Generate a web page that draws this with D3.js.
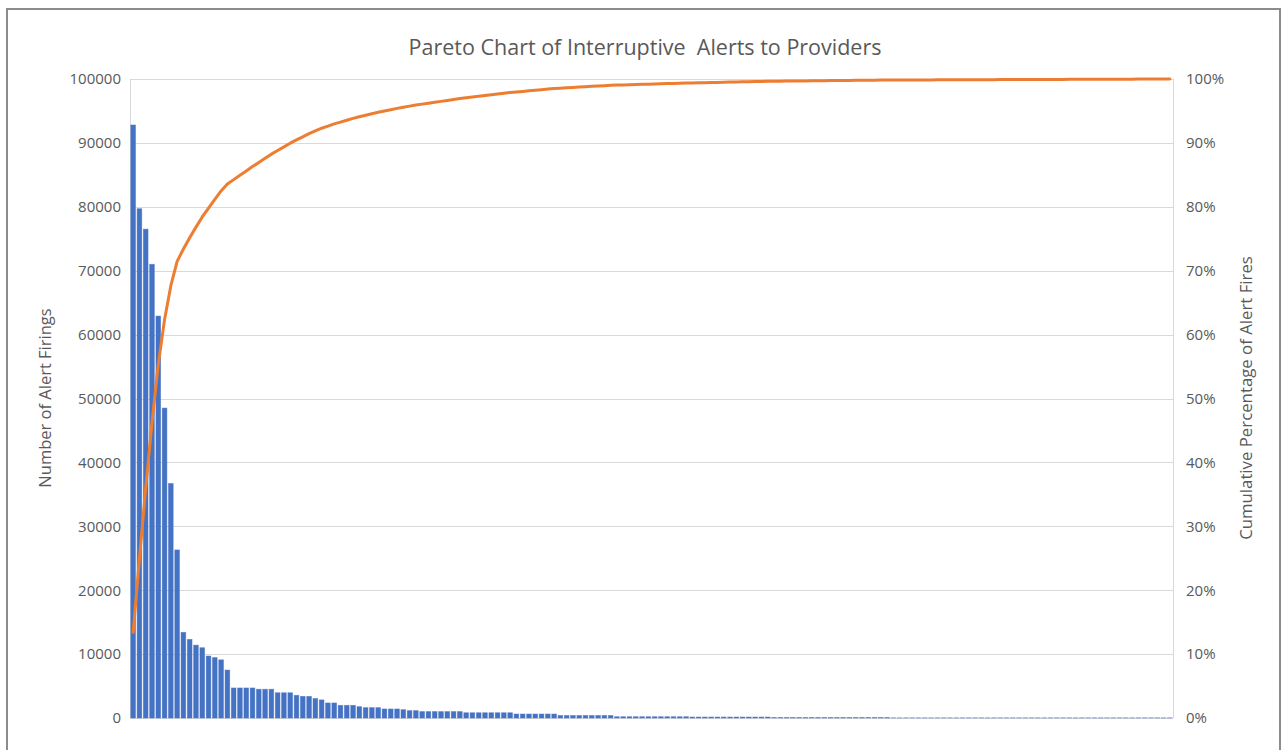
<!DOCTYPE html>
<html>
<head>
<meta charset="utf-8">
<script src="https://cdn.jsdelivr.net/npm/d3@7"></script>
<style>
  html, body { margin: 0; padding: 0; background: #fff; }
  svg { display: block; }
  text { font-family: "Open Sans", sans-serif; fill: #595959; }
</style>
</head>
<body>
<div id="chart"></div>
<script>
// Pareto chart: alert firings per alert, sorted descending
const title = 'Pareto Chart of Interruptive\u00a0 Alerts to Providers';
const leftAxisTitle = 'Number of Alert Firings';
const rightAxisTitle = 'Cumulative Percentage of Alert Fires';

// firings per alert (166 alerts)
const alertFirings = [
    92800, 79700, 76500, 71000, 62900, 48500, 36700, 26300,
    13400, 12300, 11400, 11000, 9700, 9450, 9100, 7500,
    4700, 4700, 4700, 4700, 4500, 4500, 4500, 3950, 3950, 3950,
    3550, 3380, 3380, 3050, 2830, 2350, 2350, 1980, 1980, 1980,
    1770, 1620, 1620, 1620, 1410, 1410, 1410, 1300, 1150, 1150,
    1000, 1000, 1000, 1000, 1000, 1000, 1000,
    820, 820, 820, 820, 820, 820, 820, 820,
    620, 620, 620, 620, 620, 620, 620,
    390, 390, 390, 390, 390, 390, 390, 390, 390,
    200, 200, 200, 200, 200, 200, 200, 200, 200, 200, 200, 200,
    150, 150, 150, 150, 150, 150, 150, 150, 150, 150, 150, 150, 150,
    70, 70, 70, 70, 70, 70, 70, 70, 70, 70, 70, 70, 70, 70, 70, 70, 70, 70, 70,
    25, 25, 25, 25, 25, 25, 25, 25, 25, 25, 25, 25, 25, 25, 25,
    25, 25, 25, 25, 25, 25, 25, 25, 25, 25, 25, 25, 25, 25, 25,
    25, 25, 25, 25, 25, 25, 25, 25, 25, 25, 25, 25, 25, 25, 25
];
const alertIds = alertFirings.map((v, i) => 'Alert ' + (i + 1));

const countTicks = [0, 10000, 20000, 30000, 40000, 50000, 60000, 70000, 80000, 90000, 100000];
const pctTicks = [0, 0.1, 0.2, 0.3, 0.4, 0.5, 0.6, 0.7, 0.8, 0.9, 1.0];

const width = 1284, height = 750;
const plot = { left: 130, right: 1173, top: 79, bottom: 718 };

const svg = d3.select('#chart')
    .append('svg')
    .attr('width', width)
    .attr('height', height);

// chart frame (gray border of the pasted chart)
svg.append('path')
    .attr('d', 'M7,752 V9 H1280 V752')
    .attr('fill', 'none')
    .attr('stroke', '#8c8c8c')
    .attr('stroke-width', 2);

const x = d3.scaleBand()
    .domain(alertIds)
    .range([plot.left, plot.right])
    .paddingInner(0.26)
    .paddingOuter(0.13);

const yCount = d3.scaleLinear().domain([0, 100000]).range([plot.bottom, plot.top]);
const yPct = d3.scaleLinear().domain([0, 1]).range([plot.bottom, plot.top]);

// gridlines
svg.append('g')
    .selectAll('line')
    .data(countTicks)
    .enter().append('line')
    .attr('x1', plot.left)
    .attr('x2', plot.right)
    .attr('y1', d => Math.round(yCount(d)) + 0.5)
    .attr('y2', d => Math.round(yCount(d)) + 0.5)
    .attr('stroke', '#d9d9d9')
    .attr('stroke-width', 1);

// plot side lines
svg.append('g')
    .selectAll('line')
    .data([plot.left, plot.right])
    .enter().append('line')
    .attr('x1', d => d + 0.5)
    .attr('x2', d => d + 0.5)
    .attr('y1', plot.top)
    .attr('y2', plot.bottom)
    .attr('stroke', '#d9d9d9');

// left axis
const leftAxis = svg.append('g')
    .attr('transform', `translate(${plot.left},0)`)
    .call(d3.axisLeft(yCount).tickValues(countTicks).tickFormat(d3.format('d')).tickSize(0).tickPadding(9));
leftAxis.select('.domain').remove();
leftAxis.selectAll('text')
    .attr('font-family', '"Open Sans", sans-serif')
    .style('font-size', '15px')
    .attr('fill', '#595959');

// right axis
const rightAxis = svg.append('g')
    .attr('transform', `translate(${plot.right},0)`)
    .call(d3.axisRight(yPct).tickValues(pctTicks).tickFormat(d3.format('.0%')).tickSize(0).tickPadding(13));
rightAxis.select('.domain').remove();
rightAxis.selectAll('text')
    .attr('font-family', '"Open Sans", sans-serif')
    .style('font-size', '15px')
    .attr('fill', '#595959');

// bars
svg.append('g')
    .selectAll('rect')
    .data(alertFirings)
    .enter().append('rect')
    .attr('x', (d, i) => x(alertIds[i]))
    .attr('width', x.bandwidth())
    .attr('y', d => yCount(d))
    .attr('height', d => plot.bottom - yCount(d))
    .attr('fill', '#4472c4')
    .attr('stroke', '#4472c4')
    .attr('stroke-opacity', 0.6)
    .attr('stroke-width', 0.8);

// cumulative percentage line
const total = d3.sum(alertFirings);
const cumulative = d3.cumsum(alertFirings).map(v => v / total);

const line = d3.line()
    .x((d, i) => x(alertIds[i]) + x.bandwidth() / 2)
    .y(d => yPct(d));

svg.append('path')
    .datum(Array.from(cumulative))
    .attr('d', line)
    .attr('fill', 'none')
    .attr('stroke', '#ed7d31')
    .attr('stroke-width', 3)
    .attr('stroke-linejoin', 'round')
    .attr('stroke-linecap', 'round');

// titles
svg.append('text')
    .attr('x', 645)
    .attr('y', 55)
    .attr('text-anchor', 'middle')
    .style('font-size', '21.5px')
    .text(title);

svg.append('text')
    .attr('transform', 'translate(51,398) rotate(-90)')
    .attr('text-anchor', 'middle')
    .style('font-size', '16.5px')
    .text(leftAxisTitle);

svg.append('text')
    .attr('transform', 'translate(1252,398) rotate(-90)')
    .attr('text-anchor', 'middle')
    .style('font-size', '16.8px')
    .text(rightAxisTitle);
</script>
</body>
</html>
